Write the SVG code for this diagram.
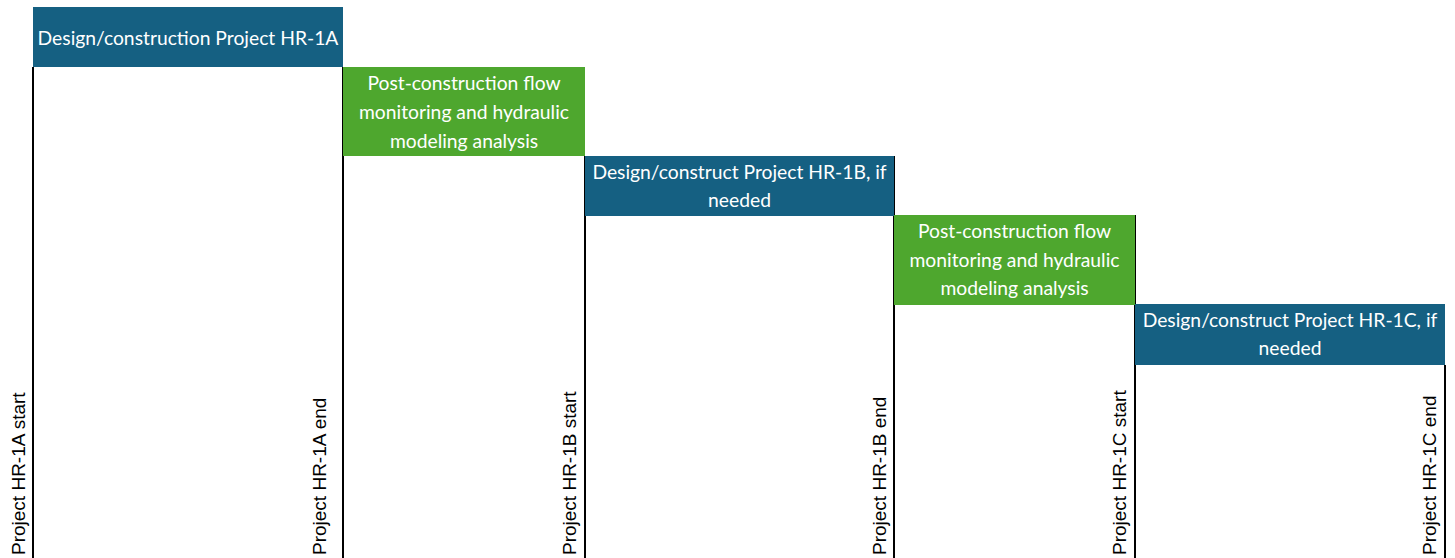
<svg xmlns="http://www.w3.org/2000/svg" width="1455" height="558" viewBox="0 0 1455 558">
<style>
.blue{fill:#156082}
.green{fill:#4EA72E}
.bt{font-family:Lato,"Liberation Sans",sans-serif;font-size:19.3px;fill:#ffffff;text-anchor:middle}
.vt{font-family:"Liberation Sans",Arial,sans-serif;font-size:19px;fill:#000000}
.ln{stroke:#000000;stroke-width:2;fill:none}
</style>
<rect x="0" y="0" width="1455" height="558" fill="#ffffff"/>
<g id="connectors">
<line class="ln" x1="33" y1="67" x2="33" y2="558"/>
<line class="ln" x1="343" y1="67" x2="343" y2="558"/>
<line class="ln" x1="585" y1="156" x2="585" y2="558"/>
<line class="ln" x1="894" y1="156" x2="894" y2="558"/>
<line class="ln" x1="1135" y1="215" x2="1135" y2="558"/>
<line class="ln" x1="1445" y1="365" x2="1445" y2="558"/>
</g>
<g id="box1">
<rect class="blue" x="33" y="7" width="310" height="60"/>
<text class="bt" x="188" y="45">Design/construction Project HR-1A</text>
</g>
<g id="box2">
<rect class="green" x="343" y="67" width="242" height="89"/>
<text class="bt" x="464" y="90">Post-construction flow</text>
<text class="bt" x="464" y="119">monitoring and hydraulic</text>
<text class="bt" x="464" y="148">modeling analysis</text>
</g>
<g id="box3">
<rect class="blue" x="585" y="156" width="309" height="60"/>
<text class="bt" x="739.5" y="179">Design/construct Project HR-1B, if</text>
<text class="bt" x="739.5" y="207">needed</text>
</g>
<g id="box4">
<rect class="green" x="894" y="215" width="241" height="90"/>
<text class="bt" x="1014.5" y="238">Post-construction flow</text>
<text class="bt" x="1014.5" y="267">monitoring and hydraulic</text>
<text class="bt" x="1014.5" y="295">modeling analysis</text>
</g>
<g id="box5">
<rect class="blue" x="1135" y="304" width="310" height="61"/>
<text class="bt" x="1290" y="327">Design/construct Project HR-1C, if</text>
<text class="bt" x="1290" y="355">needed</text>
</g>
<g id="label1"><text class="vt" transform="translate(25,555) rotate(-90)">Project HR-1A start</text></g>
<g id="label2"><text class="vt" transform="translate(326,555) rotate(-90)">Project HR-1A end</text></g>
<g id="label3"><text class="vt" transform="translate(576,555) rotate(-90)">Project HR-1B start</text></g>
<g id="label4"><text class="vt" transform="translate(886,555) rotate(-90)">Project HR-1B end</text></g>
<g id="label5"><text class="vt" transform="translate(1126,555) rotate(-90)">Project HR-1C start</text></g>
<g id="label6"><text class="vt" transform="translate(1436,555) rotate(-90)">Project HR-1C end</text></g>
</svg>
